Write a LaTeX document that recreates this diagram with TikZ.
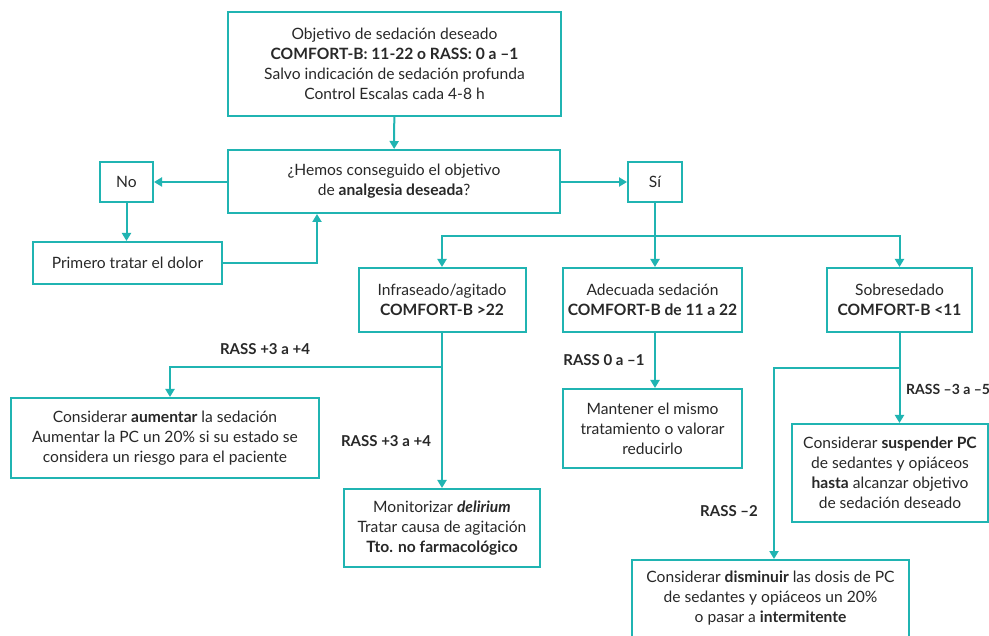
\documentclass[tikz,border=0pt]{standalone}
\usepackage{fontspec}
\setmainfont{Lato}
\usetikzlibrary{arrows.meta}
\definecolor{teal1}{RGB}{32,180,178}
\definecolor{txt}{RGB}{40,40,40}
\tikzset{
  box/.style={draw=teal1, line width=2pt, fill=white, align=center, inner sep=0pt,
    text=txt, font=\fontsize{15.6}{20}\selectfont},
  lbl/.style={inner sep=0pt, text=txt, font=\fontsize{15}{20}\selectfont\bfseries},
  conn/.style={draw=teal1, line width=2pt},
  arr/.style={conn, -{Triangle[length=8pt,width=9pt]}}
}
\begin{document}
\begin{tikzpicture}[x=1pt,y=-1pt]
\clip (0,0) rectangle (989,636);
\fill[white] (0,0) rectangle (989,636);
% boxes
\node[box, minimum width=333pt, minimum height=104pt] (top) at (394.5,64)
  {Objetivo de sedación deseado\\ \textbf{COMFORT-B: 11-22 o RASS: 0 a –1}\\ Salvo indicación de sedación profunda\\ Control Escalas cada 4-8 h};
\node[box, minimum width=332pt, minimum height=63pt] (q) at (394,181.5)
  {¿Hemos conseguido el objetivo\\ de \textbf{analgesia deseada}?};
\node[box, minimum width=53pt, minimum height=40pt] (no) at (126.5,182) {No};
\node[box, minimum width=189pt, minimum height=42pt] (prim) at (127.5,263) {Primero tratar el dolor};
\node[box, minimum width=54pt, minimum height=40pt] (si) at (655,182) {Sí};
\node[box, minimum width=167pt, minimum height=64pt] (infra) at (442,300)
  {Infraseado/agitado\\ \textbf{COMFORT-B >22}};
\node[box, minimum width=179pt, minimum height=64pt] (adec) at (652.5,300)
  {Adecuada sedación\\ \textbf{COMFORT-B de 11 a 22}};
\node[box, minimum width=145pt, minimum height=64pt] (sobre) at (899.5,300)
  {Sobresedado\\ \textbf{COMFORT-B <11}};
\node[box, minimum width=308pt, minimum height=80pt] (aum) at (165,438)
  {Considerar \textbf{aumentar} la sedación\\ Aumentar la PC un 20\% si su estado se\\ considera un riesgo para el paciente};
\node[box, minimum width=196pt, minimum height=78pt] (mon) at (442,528)
  {Monitorizar \textbf{\textit{delirium}}\\ Tratar causa de agitación\\ \textbf{Tto. no farmacológico}};
\node[box, minimum width=179pt, minimum height=79pt] (mant) at (652.5,428.5)
  {Mantener el mismo\\ tratamiento o valorar\\ reducirlo};
\node[box, minimum width=196pt, minimum height=98pt] (susp) at (890,473)
  {Considerar \textbf{suspender PC}\\ de sedantes y opiáceos\\ \textbf{hasta} alcanzar objetivo\\ de sedación deseado};
\node[box, minimum width=277pt, minimum height=78pt, anchor=north] (dism) at (770.5,559) {};
\node[inner sep=0pt, align=center, text=txt, font=\fontsize{15.6}{20}\selectfont] (dismt) at (770.5,598)
  {Considerar \textbf{disminuir} las dosis de PC\\ de sedantes y opiáceos un 20\%\\ o pasar a \textbf{intermitente}};
% labels
\node[lbl] (l1) at (265,349) {RASS +3 a +4};
\node[lbl] (l2) at (386,441) {RASS +3 a +4};
\node[lbl] (l3) at (604,360) {RASS 0 a –1};
\node[lbl, anchor=west, font=\fontsize{14}{20}\selectfont\bfseries] (l4) at (906,389) {RASS –3 a –5};
\node[lbl] (l5) at (729,511) {RASS –2};
% coordinates
\coordinate (j1) at (655,236);
\coordinate (j2) at (442,367);
\coordinate (a1) at (170,367);
\coordinate (j3) at (899.5,368);
\coordinate (j4) at (774,368);
\coordinate (r1) at (317,263);
% connectors
\draw[arr] (top) -- (q);
\draw[arr] (q.west |- no) -- (no.east);
\draw[arr] (no) -- (no |- prim.north);
\draw[arr] (prim.east) -- (r1) -- (r1 |- q.south);
\draw[arr] (q.east |- si) -- (si.west);
\draw[conn] (si.south) -- (j1);
\draw[arr] (j1) -| (infra.north);
\draw[arr] (j1) -- (j1 |- adec.north);
\draw[arr] (j1) -| (sobre.north);
\draw[arr] (adec.south -| j1) -- (mant.north -| j1);
\draw[conn] (infra.south) -- (j2);
\draw[arr] (j2) -- (a1) -- (a1 |- aum.north);
\draw[arr] (j2) -- (mon.north);
\draw[conn] (sobre.south) -- (j3);
\draw[arr] (j3) -- (j3 |- susp.north);
\draw[arr] (j3) -- (j4) -- (j4 |- dism.north);
\end{tikzpicture}
\end{document}
